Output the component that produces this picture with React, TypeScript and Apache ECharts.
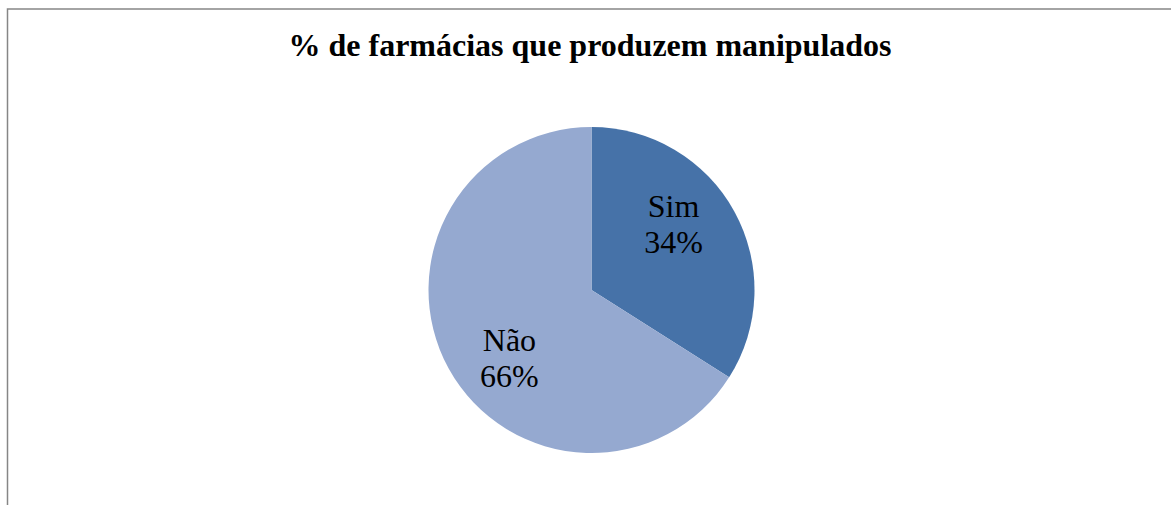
import React, { useEffect, useRef } from "react";
import * as echarts from "echarts";

const titleText = "% de farmácias que produzem manipulados";
const categories = ["Sim", "Não"];
const values = [34, 66];
const colors = ["#4672A8", "#95A9D0"];
const labelOffsets = [
  [8, -25],
  [-8, 27],
];

export default function App() {
  const ref = useRef<HTMLDivElement>(null);
  useEffect(() => {
    if (!ref.current) return;
    const chart = echarts.init(ref.current, null, { renderer: "svg" });
    const data = categories.map((name, i) => ({
      name,
      value: values[i],
      itemStyle: { color: colors[i] },
      label: { offset: labelOffsets[i] },
    }));
    chart.setOption({
      animation: false,
      backgroundColor: "#ffffff",
      title: {
        text: titleText,
        left: 585,
        textAlign: "center",
        top: 24,
        textStyle: {
          fontFamily: "Liberation Serif",
          fontWeight: "bold",
          fontSize: 32,
          color: "#000000",
        },
      },
      graphic: [
        {
          type: "rect",
          shape: { x: 7.5, y: 9, width: 1300, height: 700 },
          style: { fill: "none", stroke: "#868686", lineWidth: 1.5 },
          silent: true,
        },
      ],
      series: [
        {
          type: "pie",
          center: [591.5, 290],
          radius: 163,
          startAngle: 90,
          clockwise: true,
          data,
          label: {
            show: true,
            position: "inside",
            formatter: "{b}\n{d}%",
            fontFamily: "Liberation Serif",
            fontSize: 32,
            lineHeight: 36,
            color: "#000000",
          },
          labelLine: { show: false },
          itemStyle: { borderWidth: 0 },
          emphasis: { disabled: true },
        },
      ],
    });
    return () => chart.dispose();
  }, []);
  return (
    <div
      ref={ref}
      style={{ position: "absolute", left: 0, top: 0, width: 1171, height: 505 }}
    />
  );
}
